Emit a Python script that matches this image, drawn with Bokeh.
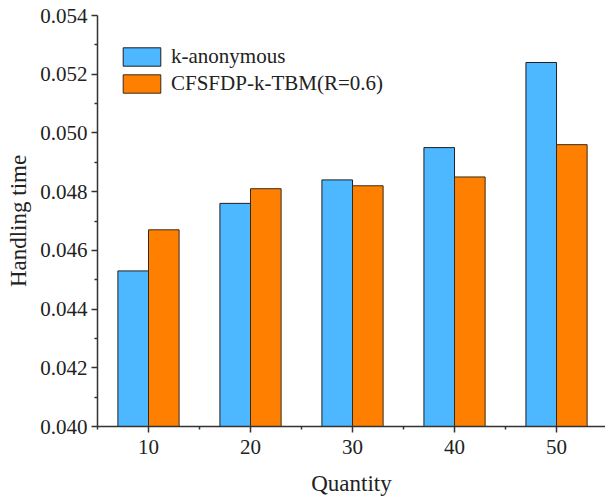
from bokeh.plotting import figure
from bokeh.models import ColumnDataSource, FixedTicker, PrintfTickFormatter, Range1d, Legend, LegendItem
from bokeh.transform import dodge
from bokeh.embed import file_html
from bokeh.resources import INLINE

quantity = [10, 20, 30, 40, 50]
k_anonymous = [0.0453, 0.0476, 0.0484, 0.0495, 0.0524]
cfsfdp = [0.0467, 0.0481, 0.0482, 0.0485, 0.0496]
series_names = ["k-anonymous", "CFSFDP-k-TBM(R=0.6)"]
x_ticks = [10, 20, 30, 40, 50]
x_minor = [5, 15, 25, 35, 45]
y_ticks = [0.040, 0.042, 0.044, 0.046, 0.048, 0.050, 0.052, 0.054]
y_minor = [0.041, 0.043, 0.045, 0.047, 0.049, 0.051, 0.053]

src = ColumnDataSource(dict(x=quantity, a=k_anonymous, b=cfsfdp))

FONT = "Liberation Serif"
p = figure(width=605, height=499, output_backend="svg", toolbar_location=None,
           x_range=Range1d(5, 54.8), y_range=Range1d(0.040, 0.054),
           min_border_left=97, min_border_right=0, min_border_top=15, min_border_bottom=73)
p.frame_width = 508
p.frame_height = 411
p.outline_line_color = None
p.xgrid.visible = False
p.ygrid.visible = False
p.background_fill_color = "white"

blue = "#4DB8FF"
orange = "#FF8000"
edge = "#1f1f1f"
r1 = p.vbar(x=dodge("x", -1.5, range=p.x_range), top="a", bottom=0, width=3, source=src,
            fill_color=blue, line_color=edge, line_width=1)
r2 = p.vbar(x=dodge("x", 1.5, range=p.x_range), top="b", bottom=0, width=3, source=src,
            fill_color=orange, line_color="#3a2a1a", line_width=1)

for ax in (p.xaxis[0], p.yaxis[0]):
    ax.axis_line_width = 1.5
    ax.axis_line_color = "#333333"
    ax.major_tick_line_color = "#333333"
    ax.minor_tick_line_color = "#333333"
    ax.major_tick_line_width = 1.5
    ax.minor_tick_line_width = 1.5
    ax.major_tick_in = 0
    ax.major_tick_out = 6
    ax.minor_tick_in = 0
    ax.minor_tick_out = 3
    ax.major_label_text_font = FONT
    ax.major_label_text_font_size = "21px"
    ax.major_label_text_color = "#222222"
    ax.axis_label_text_font = FONT
    ax.axis_label_text_font_size = "23px"
    ax.axis_label_text_font_style = "normal"
    ax.axis_label_text_color = "#222222"

p.xaxis.ticker = FixedTicker(ticks=x_ticks, minor_ticks=x_minor)
p.yaxis.ticker = FixedTicker(ticks=y_ticks, minor_ticks=y_minor)
p.yaxis.formatter = PrintfTickFormatter(format="%.3f")
p.xaxis.axis_label = "Quantity"
p.yaxis.axis_label = "Handling time"
p.xaxis.major_label_standoff = 7
p.yaxis.major_label_standoff = 4
p.xaxis.axis_label_standoff = 14
p.yaxis.axis_label_standoff = 6

legend = Legend(items=[LegendItem(label=series_names[0], renderers=[r1]),
                       LegendItem(label=series_names[1], renderers=[r2])],
                location=(21, 330), border_line_color=None, background_fill_alpha=0,
                padding=0, margin=0, spacing=2, glyph_width=47, glyph_height=23,
                label_standoff=6, label_text_font=FONT, label_text_font_size="21px",
                label_text_color="#222222", label_height=23)
p.add_layout(legend, "center")

open("out.html", "w").write(file_html(p, INLINE))
